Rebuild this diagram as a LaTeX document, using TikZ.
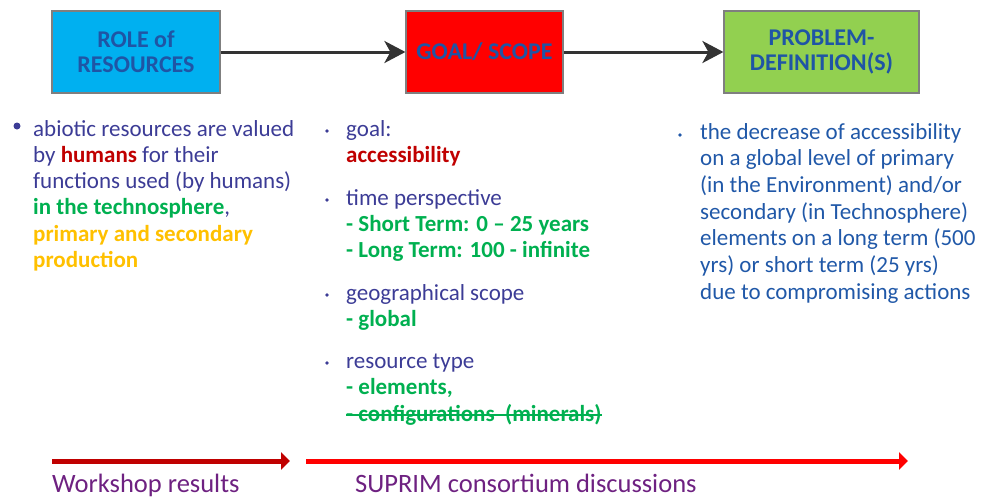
\documentclass[tikz,border=0pt]{standalone}
\usepackage{fontspec}
\setmainfont{Carlito}
\usetikzlibrary{arrows.meta}
\definecolor{roleblue}{HTML}{00B0F0}
\definecolor{goalred}{HTML}{FF0000}
\definecolor{probgreen}{HTML}{92D050}
\definecolor{boxgray}{HTML}{7F7F7F}
\definecolor{flowgray}{HTML}{333333}
\definecolor{titleblue}{HTML}{1F55A5}
\definecolor{bodyblue}{HTML}{3C3C96}
\definecolor{defblue}{HTML}{2058A8}
\definecolor{keyred}{HTML}{C00000}
\definecolor{keygreen}{HTML}{00B050}
\definecolor{keygold}{HTML}{FFC000}
\definecolor{labelpurple}{HTML}{6E2181}
\tikzset{
  stage/.style={draw=boxgray, line width=1.2pt, minimum height=82pt, inner sep=0pt,
    align=center, text=titleblue, font=\fontsize{24}{25}\selectfont\bfseries},
  flow/.style={line width=3pt, draw=flowgray, -{Stealth[length=21pt,width=22pt,inset=6pt]}},
  % base anchor of a multi-line node = baseline of its last line
  bullettext/.style={anchor=base west, inner sep=0pt, align=left,
    font=\fontsize{23}{26.3}\selectfont},
  phase/.style={line width=5pt, -{Triangle[length=9pt,width=17pt]}},
  phaselabel/.style={anchor=base west, inner sep=0pt, text=labelpurple,
    font=\fontsize{26.5}{30}\selectfont},
}

\begin{document}
\begin{tikzpicture}[x=1pt,y=-1pt]
  %%%%% START %%%%%
  \useasboundingbox (0,0) rectangle (997,499);

  % the three stages
  \node[stage, fill=roleblue, minimum width=168pt] (role) at (136,52) {ROLE of\\RESOURCES};
  \node[stage, fill=goalred, minimum width=157pt] (goal) at (484.5,52) {GOAL/ SCOPE};
  \node[stage, fill=probgreen, minimum width=195pt] (prob) at (821.5,52) {PROBLEM-\\DEFINITION(S)};

  \draw[flow] (role) -- (goal);
  \draw[flow] (goal) -- (prob);

  % role of resources
  \fill[bodyblue] (17,126) circle (3.5);
  \node[bullettext, text=bodyblue] (roletxt) at (33,267.5)
    {abiotic resources are valued\\
     by \textcolor{keyred}{\bfseries humans} for their\\
     functions used (by humans)\\
     \textcolor{keygreen}{\bfseries in the technosphere},\\
     \textcolor{keygold}{\bfseries primary and secondary}\\
     \textcolor{keygold}{\bfseries production}};

  % goal and scope
  \fill[bodyblue] (327,131) circle (1.9);
  \node[bullettext, text=bodyblue] (goaltxt) at (346,162.3)
    {goal:\\ \textcolor{keyred}{\bfseries accessibility}};
  \fill[bodyblue] (327,200) circle (1.9);
  \node[bullettext, text=bodyblue] (timetxt) at (346,257.6)
    {time perspective\\
     \textcolor{keygreen}{\bfseries - Short Term: 0 -- 25 years}\\
     \textcolor{keygreen}{\bfseries - Long Term: 100 - infinite}};
  \fill[bodyblue] (327,295) circle (1.9);
  \node[bullettext, text=bodyblue] (geotxt) at (346,326.3)
    {geographical scope\\ \textcolor{keygreen}{\bfseries - global}};
  \fill[bodyblue] (327,363) circle (1.9);
  \node[bullettext, text=bodyblue] (typetxt) at (346,394.3)
    {resource type\\ \textcolor{keygreen}{\bfseries - elements,}};
  \node[bullettext, text=keygreen, font=\fontsize{23}{26.3}\selectfont\bfseries] (conftxt) at (346,421)
    {- configurations\ \ (minerals)};
  \draw[keygreen, line width=2pt] ([yshift=6pt]conftxt.base west) -- ([yshift=6pt]conftxt.base east);

  % problem definition
  \fill[defblue] (680,135) circle (1.9);
  \node[bullettext, text=defblue, font=\fontsize{23}{26.7}\selectfont] (probtxt) at (700,299.2)
    {the decrease of accessibility\\
     on a global level of primary\\
     (in the Environment) and/or\\
     secondary (in Technosphere)\\
     elements on a long term (500\\
     yrs) or short term (25 yrs)\\
     due to compromising actions};

  % phases
  \coordinate (wsA) at (52,461);
  \coordinate (wsB) at (290,461);
  \coordinate (scA) at (306,461);
  \coordinate (scB) at (908,461);
  \draw[phase, keyred] (wsA) -- (wsB);
  \draw[phase, goalred] (scA) -- (scB);
  \node[phaselabel] (wslabel) at (52,492) {Workshop results};
  \node[phaselabel] (sclabel) at (355,492) {SUPRIM consortium discussions};

  %%%%% END %%%%%
\end{tikzpicture}
\end{document}
